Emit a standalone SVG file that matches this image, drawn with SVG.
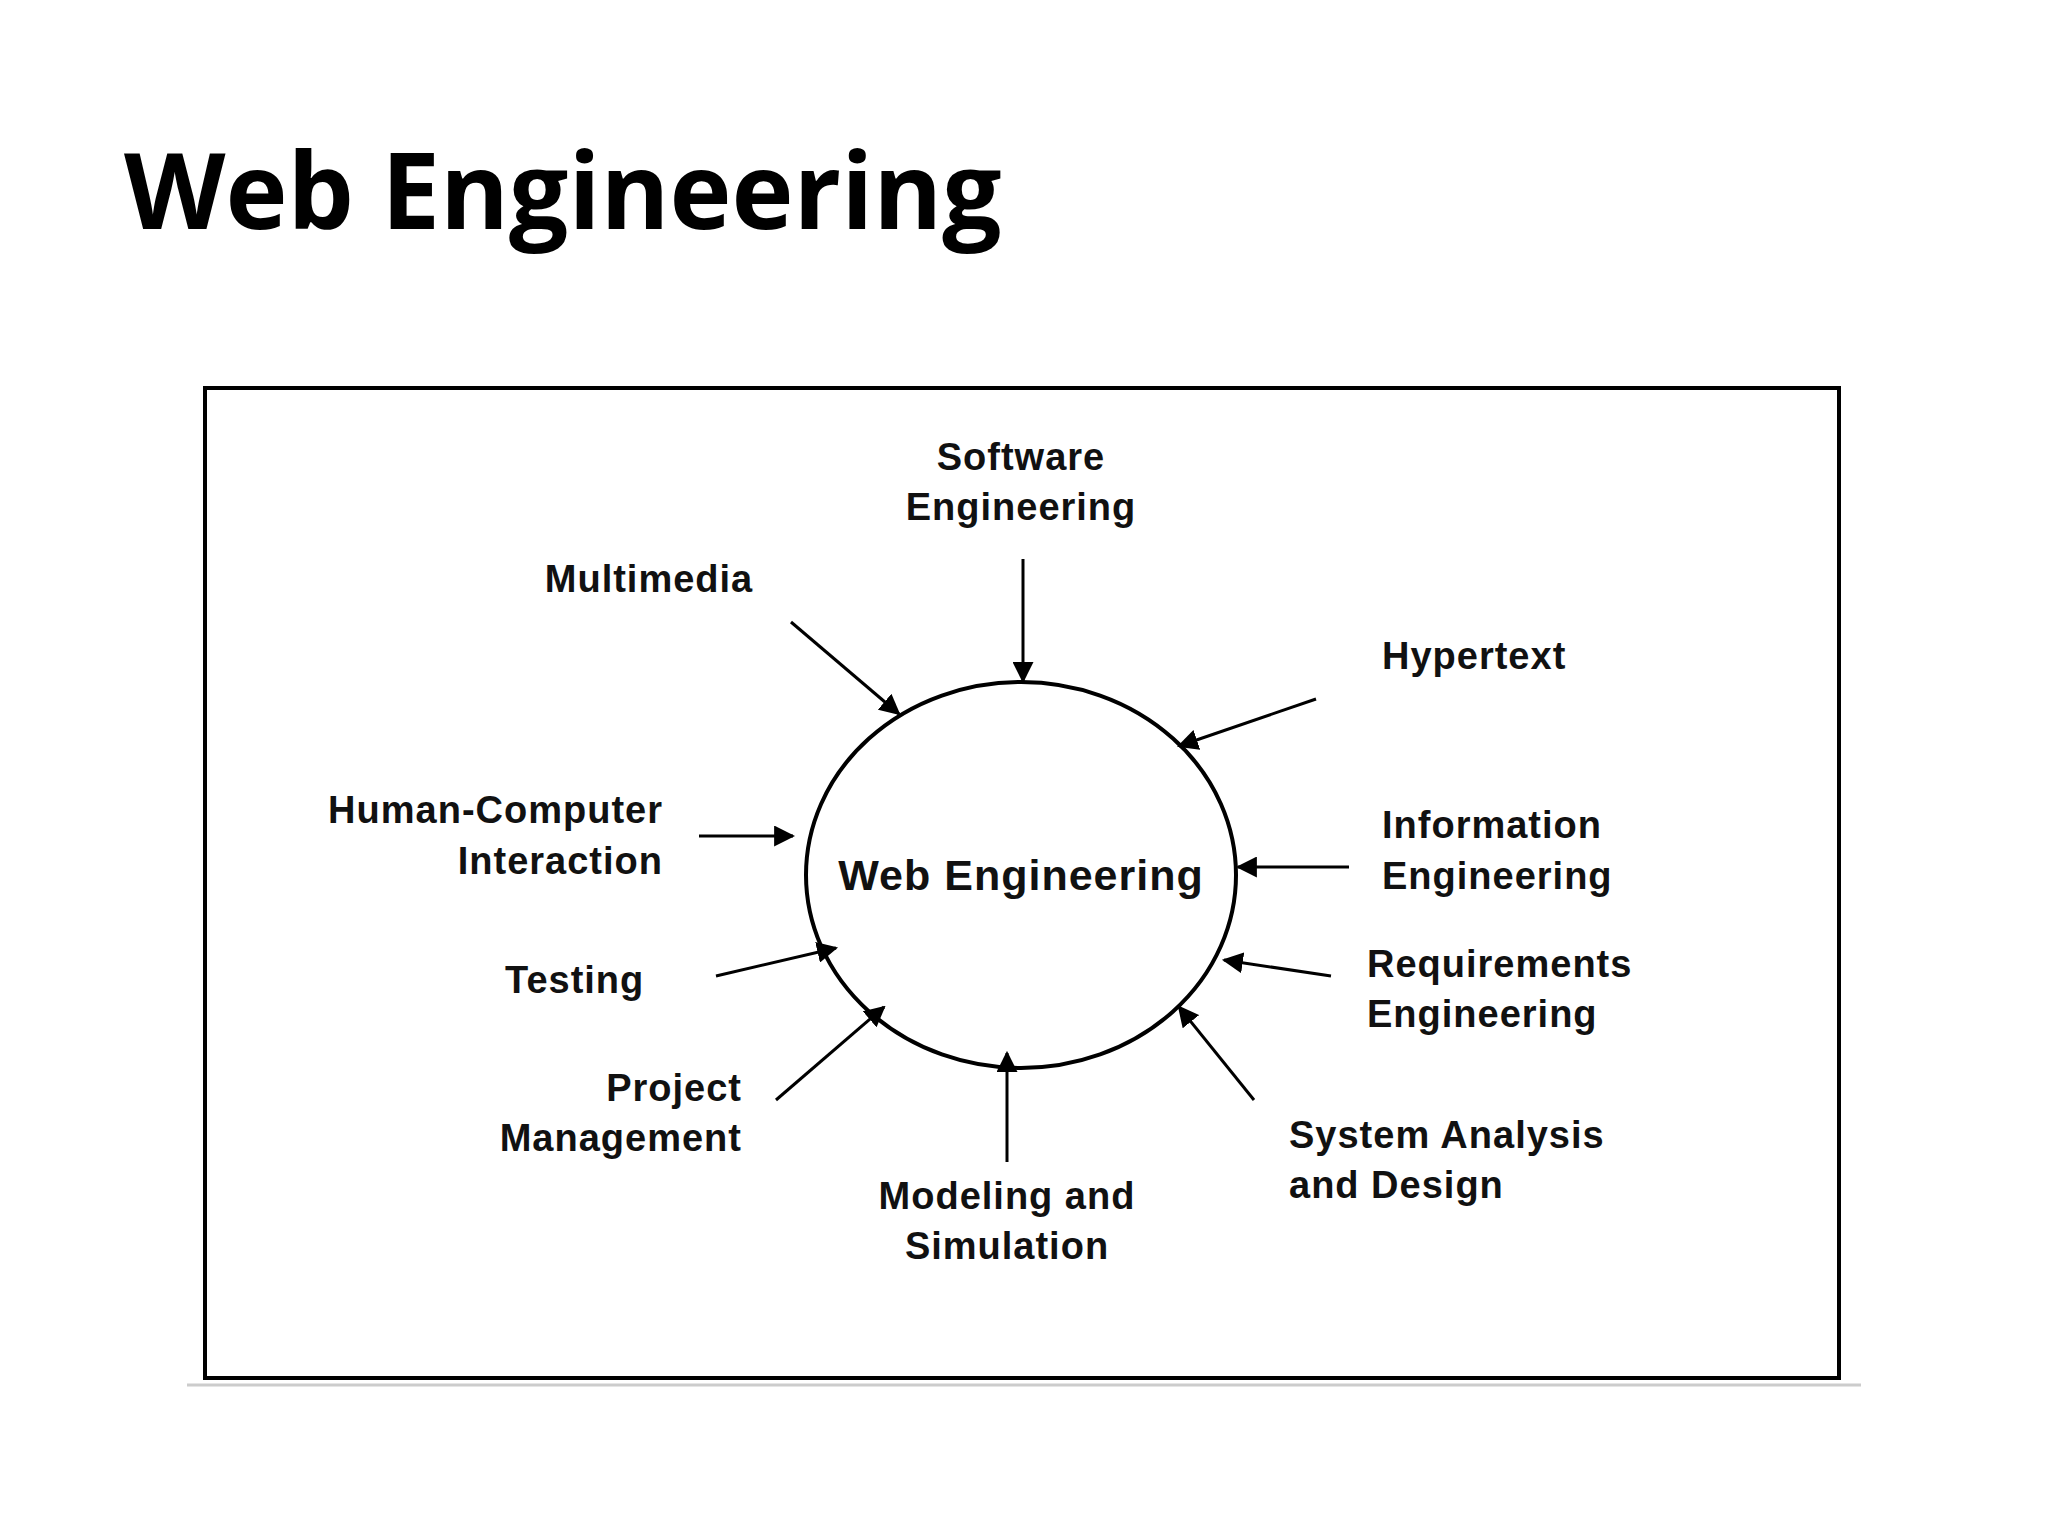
<svg xmlns="http://www.w3.org/2000/svg" width="2048" height="1536" viewBox="0 0 2048 1536">
<defs>
<style>
.t{font-family:"Liberation Sans",Arial,sans-serif;font-weight:bold;font-size:38px;fill:#111;letter-spacing:1px}
.c line{stroke:#000;stroke-width:3;marker-end:url(#ah)}
</style>
<marker id="ah" viewBox="0 0 10 10" refX="9" refY="5" markerWidth="7" markerHeight="7" orient="auto" markerUnits="strokeWidth"><path d="M0,0 L10,5 L0,10 z" fill="#000"/></marker>
</defs>
<rect width="2048" height="1536" fill="#fff"/>
<text x="124" y="229" font-family="'Open Sans','Liberation Sans',sans-serif" font-weight="bold" font-size="105" fill="#000">Web Engineering</text>
<line x1="187" y1="1385" x2="1861" y2="1385" stroke="#ccc" stroke-width="3"/>
<rect x="205" y="388" width="1634" height="990" fill="none" stroke="#000" stroke-width="4"/>
<g id="center"><ellipse cx="1021" cy="875" rx="215" ry="193" fill="none" stroke="#000" stroke-width="4"/>
<text class="t" x="1021" y="890" text-anchor="middle" style="font-size:43px;font-weight:600">Web Engineering</text></g>
<g id="se"><text class="t" x="1021" y="470" text-anchor="middle">Software</text><text class="t" x="1021" y="520" text-anchor="middle">Engineering</text></g>
<g id="mm"><text class="t" x="649" y="592" text-anchor="middle">Multimedia</text></g>
<g id="ht"><text class="t" x="1382" y="669">Hypertext</text></g>
<g id="hci"><text class="t" x="663" y="823" text-anchor="end">Human-Computer</text><text class="t" x="663" y="874" text-anchor="end">Interaction</text></g>
<g id="ie"><text class="t" x="1382" y="838">Information</text><text class="t" x="1382" y="889">Engineering</text></g>
<g id="test"><text class="t" x="505" y="993">Testing</text></g>
<g id="re"><text class="t" x="1367" y="977">Requirements</text><text class="t" x="1367" y="1027">Engineering</text></g>
<g id="pm"><text class="t" x="742" y="1101" text-anchor="end">Project</text><text class="t" x="742" y="1151" text-anchor="end">Management</text></g>
<g id="ms"><text class="t" x="1007" y="1209" text-anchor="middle">Modeling and</text><text class="t" x="1007" y="1259" text-anchor="middle">Simulation</text></g>
<g id="sad"><text class="t" x="1289" y="1148">System Analysis</text><text class="t" x="1289" y="1198">and Design</text></g>
<g class="c" id="connectors">
<line x1="1023" y1="559" x2="1023" y2="681"/>
<line x1="791" y1="622" x2="899" y2="714"/>
<line x1="1316" y1="699" x2="1179" y2="746"/>
<line x1="699" y1="836" x2="793" y2="836"/>
<line x1="1349" y1="867" x2="1238" y2="867"/>
<line x1="716" y1="976" x2="836" y2="948"/>
<line x1="1331" y1="976" x2="1224" y2="960"/>
<line x1="776" y1="1100" x2="884" y2="1007"/>
<line x1="1007" y1="1162" x2="1007" y2="1053"/>
<line x1="1254" y1="1100" x2="1179" y2="1007"/>
</g>
</svg>
